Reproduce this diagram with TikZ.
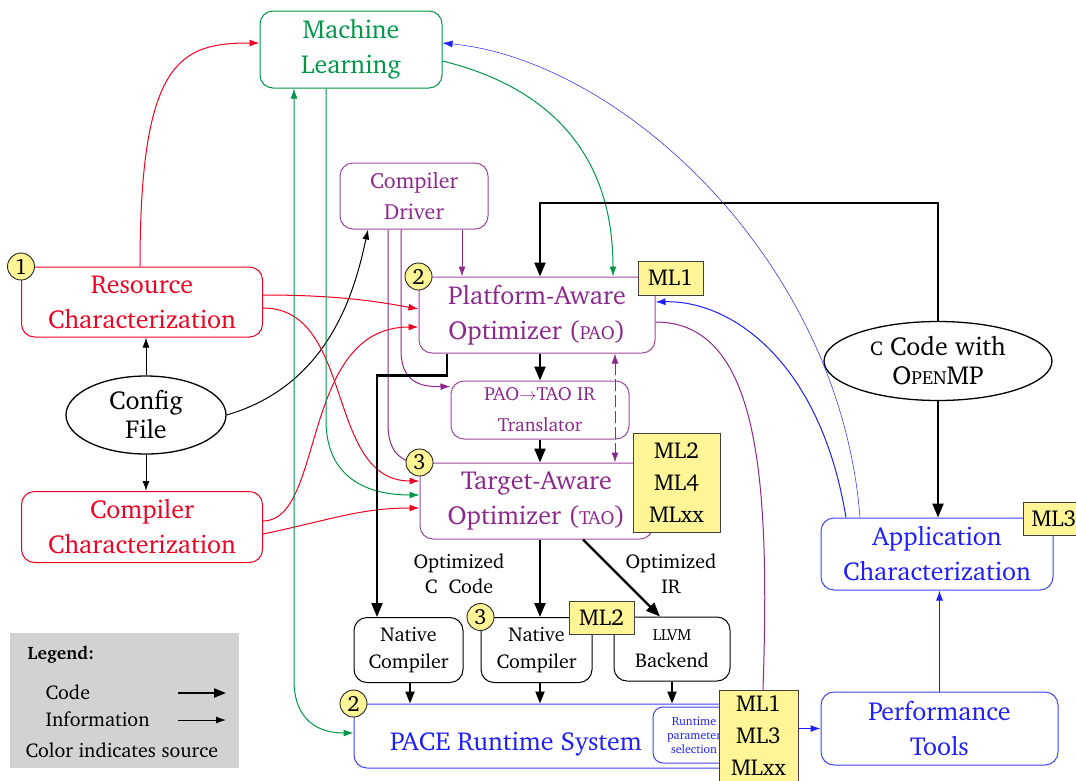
\documentclass[tikz,border=0pt]{standalone}
\usepackage[T1]{fontenc}
\usepackage{charter}
\usetikzlibrary{arrows.meta,shapes.geometric}
\definecolor{cred}{RGB}{238,0,34}
\definecolor{cgreen}{RGB}{0,150,72}
\definecolor{cpurple}{RGB}{140,40,140}
\definecolor{cblue}{RGB}{30,30,255}
\definecolor{cyel}{RGB}{255,245,150}
\definecolor{cgray}{RGB}{209,210,212}
\newcommand{\fsc}[1]{{\fontsize{19}{19}\selectfont #1}}
\newcommand{\fscs}[1]{{\fontsize{16}{16}\selectfont #1}}
\tikzset{
 box/.style={draw, rounded corners=13pt, align=center, inner sep=0pt, line width=1pt},
 bigf/.style={font=\fontsize{26}{35}\selectfont},
 medf/.style={font=\fontsize{22}{31}\selectfont},
 smf/.style={font=\fontsize{20}{27}\selectfont},
 mlbox/.style={draw=black!75, fill=cyel, line width=1pt, inner sep=0pt, align=center, font=\fontsize{23}{32}\selectfont},
 num/.style={circle, draw=black!85, fill=cyel, minimum size=27pt, inner sep=0pt, line width=0.9pt, font=\fontsize{22}{22}\selectfont},
 info/.style={-{Latex[length=10pt,width=7pt]}, line width=1pt},
 code/.style={-{Triangle[length=14pt,width=11pt]}, line width=2.3pt},
}
\begin{document}
\begin{tikzpicture}[x=1pt,y=1pt]
\useasboundingbox (0,0) rectangle (1076,-780);
% legend
\node[fill=cgray, minimum width=229pt, minimum height=135pt, inner sep=0pt] (LEG) at (124.5,-700.5) {};
\node[anchor=base west, font=\bfseries\fontsize{18}{18}\selectfont] (legt) at (24,-659) {Legend:};
\node[anchor=base west, font=\fontsize{20}{20}\selectfont] (legc) at (42,-699) {Code};
\node[anchor=base west, font=\fontsize{20}{20}\selectfont] (legi) at (42,-726) {Information};
\node[anchor=base west, font=\fontsize{20}{20}\selectfont] (legs) at (22,-757) {Color indicates source};
\coordinate (lc1) at (178,-693);
\coordinate (lc2) at (226,-693);
\coordinate (li1) at (178,-720);
\coordinate (li2) at (226,-720);
\draw[code,-{Triangle[length=12pt,width=9pt]},line width=2pt] (lc1) -- (lc2);
\draw[info] (li1) -- (li2);

% main nodes
\node[box, draw=cgreen, text=cgreen, bigf, minimum width=182pt, minimum height=77pt] (ML) at (351,-49.5) {Machine\\Learning};
\node[box, draw=cpurple!85, text=cpurple, medf, minimum width=148pt, minimum height=66pt] (CD) at (414,-196) {Compiler\\Driver};
\node[box, draw=cred, text=cred, bigf, minimum width=241pt, minimum height=70pt] (RC) at (142,-302) {Resource\\Characterization};
\node[ellipse, draw, line width=1.3pt, font=\fontsize{26}{29}\selectfont, minimum width=160pt, minimum height=78pt, inner sep=0pt, align=center] (CF) at (146,-415) {Config\\File};
\node[box, draw=cred, text=cred, bigf, minimum width=241pt, minimum height=71pt] (CC) at (142,-527) {Compiler\\Characterization};
\node[box, draw=cpurple!85, text=cpurple, bigf, minimum width=236pt, minimum height=76pt] (PAO) at (537,-315) {Platform-Aware\\Optimizer (\fsc{PAO})};
\node[box, draw=cpurple!85, text=cpurple, font=\fontsize{19}{31}\selectfont, minimum width=178pt, minimum height=58pt] (TR) at (540,-410) {PAO$\rightarrow$TAO IR\\Translator};
\node[box, draw=cpurple!85, text=cpurple, bigf, minimum width=233pt, minimum height=76pt] (TAO) at (536.5,-501) {Target-Aware\\Optimizer (\fsc{TAO})};
\node[box, draw, smf, minimum width=109pt, minimum height=65pt] (NC1) at (408.5,-650) {Native\\Compiler};
\node[box, draw, smf, minimum width=111pt, minimum height=65pt] (NC2) at (536.5,-650) {Native\\Compiler};
\node[box, draw, smf, minimum width=116pt, minimum height=64pt] (LLVM) at (672,-649) {\fscs{LLVM}\\Backend};
\node[box, draw=cblue!85, minimum width=391pt, minimum height=64pt] (PACE) at (549.5,-736) {};
\node[text=cblue, bigf] (PACEt) at (516,-744) {PACE Runtime System};
\node[box, draw=cblue!85, text=cblue, font=\fontsize{12}{14}\selectfont, minimum width=82pt, minimum height=56pt, rounded corners=10pt] (RPS) at (694,-735) {Runtime\\parameter\\selection};
\node[ellipse, draw, line width=1.3pt, font=\fontsize{26}{29}\selectfont, minimum width=228pt, minimum height=79pt, inner sep=0pt, align=center] (COMP) at (938,-361) {{\fontsize{20}{20}\selectfont C} Code with\\O\fsc{PEN}MP};
\node[box, draw=cblue!85, text=cblue, bigf, minimum width=232pt, minimum height=72pt] (AC) at (937,-554) {Application\\Characterization};
\node[box, draw=cblue!85, text=cblue, bigf, minimum width=237pt, minimum height=73pt] (PT) at (939.5,-728.5) {Performance\\Tools};

% labels
\node[align=center, font=\fontsize{20}{25}\selectfont] (lab1) at (459,-574) {Optimized\\C~~Code};
\node[align=center, font=\fontsize{20}{25}\selectfont] (lab2) at (671,-574) {Optimized\\IR};

% config file arrows
\draw[info] (CF.north) -- (CF.north |- RC.south);
\draw[info] (CF.south) -- (CF.south |- CC.north);
\draw[info] (CF.east) .. controls (330,-385) and (355,-290) .. ([xshift=-46pt]CD.south);

% red
\draw[info, cred] ([xshift=-2pt]RC.north) .. controls (140,-60) and (180,-43) .. ([yshift=6.5pt]ML.west);
\draw[info, cred] ([yshift=7pt]RC.east) .. controls (330,-295) and (370,-300) .. ([yshift=6pt]PAO.west);
\draw[info, cred] ([yshift=-6pt]RC.east) .. controls (355,-308) and (325,-481) .. ([yshift=20pt]TAO.west);
\draw[info, cred] ([yshift=6pt]CC.east) .. controls (325,-521) and (300,-327) .. ([yshift=-12pt]PAO.west);
\draw[info, cred] ([yshift=-7pt]CC.east) .. controls (330,-520) and (360,-508) .. ([yshift=-7pt]TAO.west);

% green
\draw[info, cgreen] ([xshift=-25pt]ML.south) -- (326,-420) .. controls (326,-480) and (370,-495) .. ([yshift=6pt]TAO.west);
\draw[{Latex[length=10pt,width=7pt]}-{Latex[length=10pt,width=7pt]}, line width=1pt, cgreen] ([xshift=-57pt]ML.south) -- (294,-680) .. controls (294,-722) and (320,-733) .. ([yshift=3pt]PACE.west);
\draw[info, cgreen] ([yshift=-11.5pt]ML.east) .. controls (520,-80) and (613,-130) .. ([xshift=76pt]PAO.north);

% blue
\draw[-{Latex[length=10pt,width=7pt]}, line width=0.5pt, cblue] ([xshift=-77pt]AC.north) .. controls (840,-260) and (620,-60) .. ([yshift=6.5pt]ML.east);
\draw[info, cblue] ([xshift=-91pt]AC.north) .. controls (820,-360) and (730,-300) .. ([yshift=13pt]PAO.east);
\draw[info, cblue] (PT.north) -- (PT.north |- AC.south);

% purple
\draw[line width=1pt, cpurple] ([yshift=-7pt]PAO.east) .. controls (760,-322) and (770,-480) .. (763,-690);
\draw[line width=1pt, cpurple] ([xshift=-26pt]CD.south) -- (388,-425) .. controls (388,-450) and (400,-463) .. (TAO.north west);
\draw[info, cpurple] ([xshift=-13pt]CD.south) -- (401,-350) .. controls (401,-382) and (420,-387) .. ([yshift=-6pt]TR.north west);
\draw[info, cpurple] ([xshift=48pt]CD.south) -- ([xshift=-75pt]PAO.north);
\draw[{Latex[length=10pt,width=7pt]}-{Latex[length=10pt,width=7pt]}, line width=1pt, cpurple, dash pattern=on 12pt off 4pt] ([xshift=78pt]PAO.south) -- ([xshift=78pt]PAO.south |- TAO.north);

% code arrows
\draw[code] (COMP.north) -- (COMP.north |- 0,-203) -| ([xshift=3pt]PAO.north);
\draw[code] (COMP.south) -- (COMP.south |- AC.north);
\draw[code] ([xshift=3pt]PAO.south) -- ([xshift=3pt]PAO.south |- TR.north);
\draw[code] (TR.south) -- (TR.south |- TAO.north);
\draw[code] ([xshift=3.5pt]TAO.south) -- ([xshift=3.5pt]NC2.north);
\draw[code] ([xshift=46.5pt]TAO.south) -- ([xshift=-12pt]LLVM.north);
\draw[code] ([xshift=-90pt]PAO.south) -- ++(0,-22) -| ([xshift=-31.5pt]NC1.north);
\draw[code,-{Triangle[length=12pt,width=9pt]},line width=2pt] ([xshift=1.5pt]NC1.south) -- ([xshift=1.5pt]NC1.south |- PACE.north);
\draw[code,-{Triangle[length=12pt,width=9pt]},line width=2pt] ([xshift=3.5pt]NC2.south) -- ([xshift=3.5pt]NC2.south |- PACE.north);
\draw[code,-{Triangle[length=12pt,width=9pt]},line width=2pt] (LLVM.south) -- (LLVM.south |- PACE.north);

% ML boxes
\node[mlbox, minimum width=65pt, minimum height=34pt] (ML1) at (670.5,-278) {ML1};
\node[mlbox, minimum width=87pt, minimum height=99pt] (MLT) at (676.5,-482.5) {ML2\\ML4\\MLxx};
\node[mlbox, minimum width=65pt, minimum height=33pt] (MLN) at (601.5,-617.5) {ML2};
\node[mlbox, minimum width=79pt, minimum height=92pt] (MLP) at (758.5,-736) {ML1\\ML3\\MLxx};
\node[mlbox, minimum width=62pt, minimum height=33pt] (ML3) at (1054,-518.5) {ML3};
\draw[info, cblue] (MLP.east |- PT.west) -- (PT.west);

% number circles
\node[num] (n1) at (RC.north west) {1};
\node[num] (n2a) at (PAO.north west) {2};
\node[num] (n3a) at (TAO.north west) {3};
\node[num] (n3b) at (NC2.north west) {3};
\node[num] (n2b) at (PACE.north west) {2};
\end{tikzpicture}
\end{document}
